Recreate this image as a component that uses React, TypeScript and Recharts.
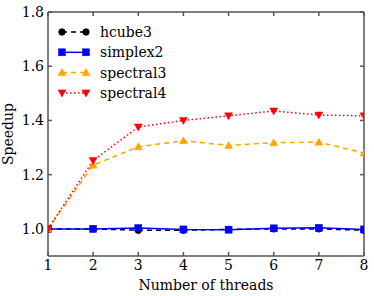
import React from 'react';
import { LineChart, Line, XAxis, YAxis } from 'recharts';

const threads = [1, 2, 3, 4, 5, 6, 7, 8];
const hcube3 = [1.0, 1.0, 0.995, 0.995, 0.998, 1.0, 1.0, 0.995];
const simplex2 = [1.0, 1.0, 1.003, 0.998, 0.997, 1.002, 1.004, 0.998];
const spectral3 = [1.0, 1.235, 1.303, 1.325, 1.308, 1.318, 1.32, 1.28];
const spectral4 = [1.0, 1.252, 1.376, 1.4, 1.417, 1.435, 1.42, 1.417];
const xTicks = [1, 2, 3, 4, 5, 6, 7, 8];
const yTicks = [1.0, 1.2, 1.4, 1.6, 1.8];

const data = threads.map((t, i) => ({
  t,
  hcube3: hcube3[i],
  simplex2: simplex2[i],
  spectral3: spectral3[i],
  spectral4: spectral4[i],
}));

const FONT = '"DejaVu Serif", serif';
const FS = 14;
const AXIS = '#555';

type Marker = 'circle' | 'square' | 'up' | 'down';

const series: { key: string; color: string; dash?: string; marker: Marker; width: number }[] = [
  { key: 'hcube3', color: '#000000', dash: '5 4', marker: 'circle', width: 1.5 },
  { key: 'simplex2', color: '#0000ff', marker: 'square', width: 1.5 },
  { key: 'spectral3', color: '#ffa500', dash: '5 4', marker: 'up', width: 1.5 },
  { key: 'spectral4', color: '#ff0000', dash: '1.5 2.5', marker: 'down', width: 1.5 },
];

function markerShape(m: Marker, cx: number, cy: number, color: string, k?: string) {
  if (m === 'circle') return <circle key={k} cx={cx} cy={cy} r={3.2} fill={color} stroke={color} />;
  if (m === 'square') return <rect key={k} x={cx - 3.5} y={cy - 3.5} width={7} height={7} fill={color} stroke={color} strokeWidth={0.5} />;
  if (m === 'up')
    return <polygon key={k} points={`${cx},${cy - 4} ${cx - 4},${cy + 3} ${cx + 4},${cy + 3}`} fill={color} stroke={color} strokeWidth={0.5} />;
  return <polygon key={k} points={`${cx},${cy + 4} ${cx - 4},${cy - 3} ${cx + 4},${cy - 3}`} fill={color} stroke={color} strokeWidth={0.5} />;
}

const makeDot = (m: Marker, color: string) => (props: any) => {
  const { cx, cy, index } = props;
  if (cx == null || cy == null) return <g key={index} />;
  return markerShape(m, cx, cy, color, `d${index}`);
};

const LegendBox = () => (
  <svg width={130} height={90} style={{ position: 'absolute', left: 58, top: 22, display: 'block' }}>
    {series.map((s, i) => {
      const y = 10 + i * 20.3;
      return (
        <g key={s.key}>
          <line x1={4} x2={28} y1={y} y2={y} stroke={s.color} strokeWidth={s.width} strokeDasharray={s.dash} />
          {markerShape(s.marker, 4, y, s.color)}
          {markerShape(s.marker, 28, y, s.color)}
          <text x={42} y={y} dy="0.35em" fontFamily={FONT} fontSize={FS} fill="#000">
            {s.key}
          </text>
        </g>
      );
    })}
  </svg>
);

const EmptyTick = () => <g />;

export default function App() {
  return (
    <div style={{ position: 'absolute', left: 0, top: 0, width: 374, height: 296, background: '#fff' }}>
      <LineChart width={374} height={296} data={data} margin={{ top: 11, right: 9, bottom: 0, left: 0 }}>
        <XAxis
          dataKey="t"
          type="number"
          domain={[1, 8]}
          ticks={xTicks}
          allowDataOverflow
          height={40}
          tickSize={-4}
          tickMargin={8}
          stroke={AXIS}
          strokeWidth={1.5}
          tick={{ fill: '#000', fontFamily: FONT, fontSize: FS }}
          label={{ value: 'Number of threads', position: 'insideBottom', offset: 6, fill: '#000', fontFamily: FONT, fontSize: FS }}
        />
        <XAxis
          xAxisId="top"
          orientation="top"
          dataKey="t"
          type="number"
          domain={[1, 8]}
          ticks={xTicks}
          height={1}
          tickSize={-4}
          stroke={AXIS}
          strokeWidth={1.5}
          tick={EmptyTick}
        />
        <YAxis
          type="number"
          domain={[0.9, 1.8]}
          ticks={yTicks}
          allowDataOverflow
          width={48}
          tickSize={-4}
          tickMargin={8}
          stroke={AXIS}
          strokeWidth={1.5}
          tickFormatter={(v: number) => v.toFixed(1)}
          tick={{ fill: '#000', fontFamily: FONT, fontSize: FS }}
          label={{ value: 'Speedup', angle: -90, position: 'insideLeft', offset: 8, fill: '#000', fontFamily: FONT, fontSize: FS, style: { textAnchor: 'middle' } }}
        />
        <YAxis
          yAxisId="right"
          orientation="right"
          type="number"
          domain={[0.9, 1.8]}
          ticks={yTicks}
          width={1}
          tickSize={-4}
          stroke={AXIS}
          strokeWidth={1.5}
          tick={EmptyTick}
        />
        <Line
          xAxisId="top"
          yAxisId="right"
          dataKey="hcube3"
          stroke="none"
          dot={false}
          activeDot={false}
          legendType="none"
          isAnimationActive={false}
        />
        {series.map((s) => (
          <Line
            key={s.key}
            dataKey={s.key}
            stroke={s.color}
            strokeWidth={s.width}
            strokeDasharray={s.dash}
            dot={makeDot(s.marker, s.color)}
            activeDot={false}
            isAnimationActive={false}
            type="linear"
          />
        ))}
      </LineChart>
      <LegendBox />
    </div>
  );
}
